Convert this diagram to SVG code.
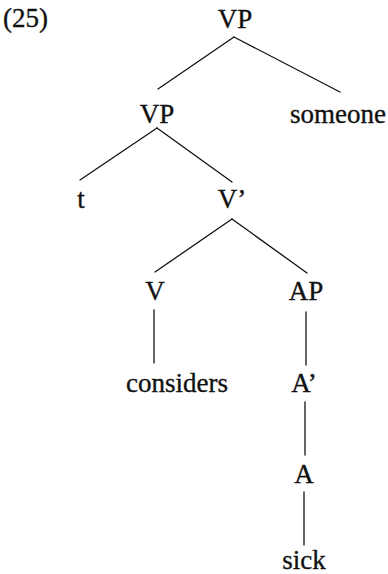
<svg xmlns="http://www.w3.org/2000/svg" width="388" height="574" viewBox="0 0 388 574">
  <style>
    text { font-family: "Liberation Serif", "Times New Roman", serif; font-size: 27px; fill: #111; stroke: #111; stroke-width: 0.35; text-anchor: middle; }
    .edge { stroke: #111; stroke-width: 1.3; fill: none; stroke-linecap: round; }
  </style>
  <rect width="388" height="574" fill="#fff"/>
  <text x="3" y="27" style="text-anchor:start">(25)</text>
  <g id="connectors">
    <line class="edge" x1="234" y1="37" x2="158" y2="89"/>
    <line class="edge" x1="234" y1="37" x2="340" y2="92"/>
    <line class="edge" x1="157" y1="128" x2="80" y2="180"/>
    <line class="edge" x1="157" y1="128" x2="232" y2="182"/>
    <line class="edge" x1="232" y1="219" x2="155" y2="272"/>
    <line class="edge" x1="232" y1="219" x2="307" y2="273"/>
    <line class="edge" x1="154" y1="310" x2="154" y2="363"/>
    <line class="edge" x1="306" y1="312" x2="306" y2="365"/>
    <line class="edge" x1="305" y1="402" x2="305" y2="455"/>
    <line class="edge" x1="304" y1="492" x2="304" y2="545"/>
  </g>
  <g id="vp-top"><text x="235" y="28">VP</text></g>
  <g id="vp-inner"><text x="157" y="123">VP</text></g>
  <g id="someone"><text x="338" y="123">someone</text></g>
  <g id="t"><text x="81" y="208">t</text></g>
  <g id="v-bar"><text x="232" y="208">V’</text></g>
  <g id="v"><text x="155" y="300">V</text></g>
  <g id="ap"><text x="306" y="300">AP</text></g>
  <g id="considers"><text x="177" y="392">considers</text></g>
  <g id="a-bar"><text x="304" y="392">A’</text></g>
  <g id="a"><text x="304" y="483">A</text></g>
  <g id="sick"><text x="304" y="569">sick</text></g>
</svg>
